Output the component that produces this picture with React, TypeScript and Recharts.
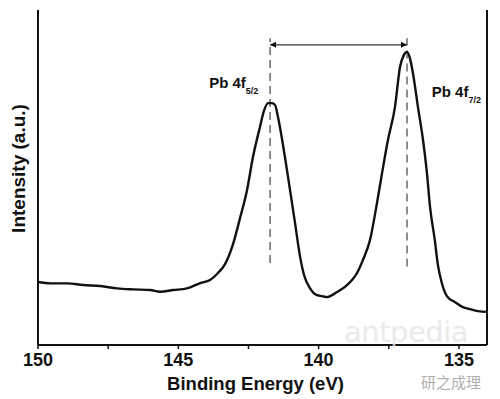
import React from "react";
import { LineChart, Line, XAxis, YAxis, ReferenceLine, ReferenceDot } from "recharts";

// ---------------------------------------------------------------------------
// Data
// ---------------------------------------------------------------------------

const bindingEnergy = [
  150.0, 149.56, 148.96, 148.39, 147.78, 147.18, 146.61, 146.0, 145.65, 145.18,
  144.69, 144.22, 143.87, 143.62, 143.33, 143.05, 142.8, 142.55, 142.34, 142.09,
  141.94, 141.8, 141.66, 141.55, 141.45, 141.2, 141.02, 140.84, 140.66, 140.52,
  140.31, 140.06, 139.88, 139.7, 139.52, 139.35, 139.17, 138.99, 138.81, 138.63,
  138.42, 138.17, 137.92, 137.74, 137.53, 137.28, 137.1, 136.96, 136.85, 136.75,
  136.64, 136.46, 136.28, 136.14, 136.03, 135.86, 135.75, 135.61, 135.43, 135.14,
  134.86, 134.61, 134.32, 134.0,
];

const intensity = [
  18.8, 18.4, 18.4, 17.9, 17.6, 16.9, 16.6, 16.4, 15.9, 16.4,
  16.9, 18.5, 19.4, 21.2, 24.2, 30.1, 37.9, 46.3, 56.1, 65.1,
  70.1, 72.2, 72.2, 71.6, 68.1, 56.1, 46.3, 36.4, 26.3, 20.9,
  17.0, 14.9, 14.6, 14.3, 14.9, 15.8, 16.7, 17.9, 19.4, 21.5,
  25.4, 31.3, 42.4, 51.3, 61.2, 71.0, 83.0, 86.6, 87.5, 85.7,
  81.2, 71.0, 61.2, 51.3, 41.2, 31.3, 23.9, 18.5, 14.6, 12.8,
  11.3, 10.7, 10.1, 9.9,
];

const xTicks = [150, 147.5, 145, 142.5, 140, 137.5, 135];

// peak markers: Pb 4f5/2 and Pb 4f7/2
const peakEnergy = [141.73, 136.85];
const peakSubscript = ["5/2", "7/2"];
const peakLabelAt = [
  { x: 143.9, y: 76.6 },
  { x: 135.97, y: 74.1 },
];
const dashBottom = [24.5, 23.4];
const dashTop = 91.6;
const arrowLevel = 89.6;

const data = bindingEnergy.map((e, i) => ({ energy: e, intensity: intensity[i] }));

// ---------------------------------------------------------------------------
// Styles
// ---------------------------------------------------------------------------

const FONT = '"Liberation Sans", Arial, Helvetica, sans-serif';
const INK = "#111";

// ---------------------------------------------------------------------------
// Custom shapes
// ---------------------------------------------------------------------------

function DoubleArrow(props: any) {
  const { x1, y1, x2, y2 } = props;
  const dir = x2 > x1 ? 1 : -1;
  const head = 6;
  const half = 3;
  return (
    <g>
      <line x1={x1} y1={y1} x2={x2} y2={y2} stroke="#333" strokeWidth={1.2} />
      <polygon
        points={`${x1},${y1} ${x1 + dir * head},${y1 - half} ${x1 + dir * head},${y1 + half}`}
        fill={INK}
      />
      <polygon
        points={`${x2},${y2} ${x2 - dir * head},${y2 - half} ${x2 - dir * head},${y2 + half}`}
        fill={INK}
      />
    </g>
  );
}

function peakLabel(sub: string) {
  return (props: any) => (
    <text
      x={props.cx}
      y={props.cy}
      fill={INK}
      fontFamily={FONT}
      fontWeight="bold"
      fontSize={15}
      textAnchor="start"
    >
      Pb 4f
      <tspan fontSize={9} dy={6}>
        {sub}
      </tspan>
    </text>
  );
}

function YTitle(props: any) {
  const vb = props.viewBox;
  const cx = vb.x + 18;
  const cy = vb.y + vb.height / 2 - 9;
  return (
    <text
      transform={`translate(${cx}, ${cy}) rotate(-90)`}
      textAnchor="middle"
      dominantBaseline="central"
      fill={INK}
      fontFamily={FONT}
      fontWeight="bold"
      fontSize={19}
    >
      Intensity (a.u.)
    </text>
  );
}

function XTitle(props: any) {
  const vb = props.viewBox;
  return (
    <text
      x={vb.x + vb.width / 2 - 7}
      y={vb.y + 45}
      textAnchor="middle"
      fill={INK}
      fontFamily={FONT}
      fontWeight="bold"
      fontSize={18.5}
    >
      Binding Energy (eV)
    </text>
  );
}

// ---------------------------------------------------------------------------
// Component
// ---------------------------------------------------------------------------

export default function App() {
  const axisLine = { stroke: INK, strokeWidth: 2 };
  return (
    <div style={{ position: "absolute", left: 0, top: 0, width: 500, height: 399, background: "#fff" }}>
      <LineChart width={500} height={399} data={data} margin={{ top: 10, right: 0, bottom: 0, left: 0 }}>
        <XAxis
          xAxisId="bottom"
          dataKey="energy"
          type="number"
          domain={[134, 150]}
          reversed
          allowDataOverflow
          ticks={xTicks}
          interval={0}
          tickFormatter={(v: number) => (v % 5 === 0 ? String(v) : "")}
          tick={{ fill: INK, fontSize: 18, fontWeight: "bold", fontFamily: FONT }}
          tickSize={4}
          tickMargin={4}
          tickLine={{ stroke: INK, strokeWidth: 1.5 }}
          axisLine={axisLine}
          height={54}
          label={XTitle}
        />
        <XAxis
          xAxisId="top"
          orientation="top"
          dataKey="energy"
          type="number"
          domain={[134, 150]}
          reversed
          allowDataOverflow
          tick={false}
          tickLine={false}
          axisLine={axisLine}
          height={0}
        />
        <YAxis
          yAxisId="left"
          type="number"
          domain={[0, 100]}
          allowDataOverflow
          tick={false}
          tickLine={false}
          axisLine={axisLine}
          width={38}
          label={YTitle}
        />
        <YAxis
          yAxisId="right"
          orientation="right"
          type="number"
          domain={[0, 100]}
          allowDataOverflow
          tick={false}
          tickLine={false}
          axisLine={axisLine}
          width={13}
        />
        {peakEnergy.map((e, i) => (
          <ReferenceLine
            key={`dash-${i}`}
            xAxisId="bottom"
            yAxisId="left"
            segment={[
              { x: e, y: dashBottom[i] },
              { x: e, y: dashTop },
            ]}
            stroke="#444"
            strokeWidth={1.2}
            strokeDasharray="8 5"
          />
        ))}
        <ReferenceLine
          xAxisId="bottom"
          yAxisId="left"
          segment={[
            { x: peakEnergy[0], y: arrowLevel },
            { x: peakEnergy[1], y: arrowLevel },
          ]}
          shape={DoubleArrow}
        />
        {peakLabelAt.map((p, i) => (
          <ReferenceDot
            key={`lbl-${i}`}
            xAxisId="bottom"
            yAxisId="left"
            x={p.x}
            y={p.y}
            r={0}
            shape={peakLabel(peakSubscript[i])}
          />
        ))}
        <Line
          xAxisId="bottom"
          yAxisId="left"
          dataKey="intensity"
          type="monotone"
          stroke={INK}
          strokeWidth={2.4}
          dot={false}
          isAnimationActive={false}
        />
      </LineChart>
      <div
        style={{
          position: "absolute",
          left: 344,
          top: 318,
          fontFamily: '"DejaVu Sans", sans-serif',
          fontSize: 29,
          lineHeight: "29px",
          color: "#e6e6e6",
          opacity: 0.8,
          letterSpacing: -0.5,
        }}
      >
        antpedia
      </div>
      <div
        style={{
          position: "absolute",
          left: 421,
          top: 374,
          fontFamily: '"Noto Sans CJK SC", sans-serif',
          fontSize: 15,
          lineHeight: "16px",
          color: "#b0b0b0",
        }}
      >
        研之成理
      </div>
    </div>
  );
}
